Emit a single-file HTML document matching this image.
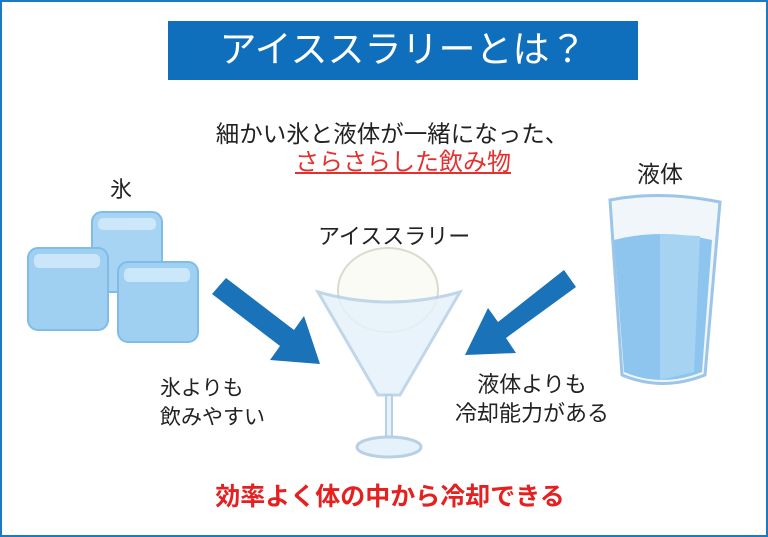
<!DOCTYPE html>
<html><head><meta charset="utf-8"><style>
body{margin:0;width:768px;height:537px;overflow:hidden;background:#fff;font-family:"Liberation Sans","Noto Sans CJK JP",sans-serif}
.f{position:absolute;left:0;top:0;width:764px;height:533px;border:2px solid #1b7ac4}
.t{position:absolute;white-space:nowrap;color:#222}
</style></head><body>
<div class="f"></div>
<div style="position:absolute;left:168px;top:21px;width:470px;height:59px;background:#0f6fbd"></div>
<div class="t" style="left:168px;width:470px;top:24px;text-align:center;color:#fff;font-size:37px;line-height:52px">アイススラリーとは？</div>
<div class="t" style="left:192px;width:400px;top:119px;text-align:center;font-size:23.5px;line-height:30px">細かい氷と液体が一緒になった、</div>
<div class="t" style="left:203px;width:400px;top:148px;text-align:center;font-size:24px;line-height:30px;color:#e53030;text-decoration:underline">さらさらした飲み物</div>
<div class="t" style="left:110px;top:172px;font-size:22px">氷</div>
<div class="t" style="left:637px;top:155px;font-size:23px">液体</div>
<div class="t" style="left:318px;top:219px;font-size:22px">アイススラリー</div>
<div class="t" style="left:160px;top:374px;font-size:21px;line-height:29px">氷よりも<br>飲みやすい</div>
<div class="t" style="left:455px;top:370px;font-size:22px;line-height:29px;text-align:center">液体よりも<br>冷却能力がある</div>
<div class="t" style="left:180px;width:420px;top:477px;text-align:center;font-size:25px;font-weight:bold;color:#e52020">効率よく体の中から冷却できる</div>
<svg width="768" height="537" style="position:absolute;left:0;top:0">
<g fill="#bfe0f7" stroke="#7fbce8" stroke-width="2">
<rect x="92" y="212" width="70" height="80" rx="10" fill="#a8d4f3"/>
<rect x="28" y="248" width="80" height="82" rx="10" fill="#9fd0f2"/>
<rect x="118" y="262" width="80" height="80" rx="10" fill="#9fd0f2"/>
</g>
<g fill="#d6ecfb" opacity=".8"><rect x="34" y="254" width="66" height="14" rx="5"/><rect x="124" y="268" width="66" height="14" rx="5"/><rect x="98" y="218" width="58" height="12" rx="5"/></g>
<path d="M610 200 Q660 190 720 202 L705 375 Q662 392 622 375 Z" fill="#f1f6fb" stroke="#9cc5e8" stroke-width="3"/>
<path d="M614 240 Q660 228 712 240 L702 372 Q662 388 624 372 Z" fill="#8ec5ee"/>
<path d="M660 234 L700 236 L694 372 L660 380Z" fill="#a7d3f3"/>
<path d="M226 278 L294 330 L304 316 L320 364 L270 360 L280 346 L212 294Z" fill="#1a72b8"/>
<path d="M564 270 L498 322 L488 308 L465 355 L516 353 L506 338 L576 287Z" fill="#1a72b8"/>
<ellipse cx="388" cy="290" rx="50" ry="42" fill="#fbfbf6" stroke="#d8dccf" stroke-width="2"/>
<path d="M318 292 Q389 312 460 292 L400 395 L378 395 Z" fill="#e6f2fb" stroke="#b8d0e6" stroke-width="3" opacity=".85"/>
<rect x="386" y="395" width="6" height="45" fill="#e6f2fb" stroke="#b8d0e6" stroke-width="2"/>
<ellipse cx="389" cy="447" rx="32" ry="10" fill="#e6f2fb" stroke="#b8d0e6" stroke-width="3"/>
</svg>
</body></html>
